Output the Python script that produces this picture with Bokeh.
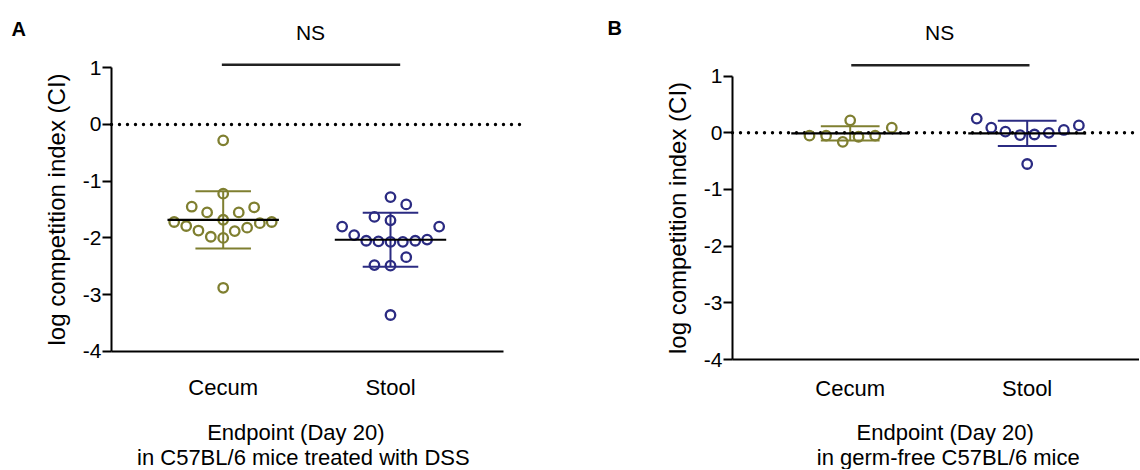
import numpy as np
from bokeh.plotting import figure
from bokeh.layouts import row
from bokeh.models import FixedTicker, LinearAxis
from bokeh.core.properties import value
from bokeh.embed import file_html
from bokeh.resources import INLINE

FONT = "Liberation Sans"

groups = ["Cecum", "Stool"]
group_pos = [1, 2]
y_ticks = [-4, -3, -2, -1, 0, 1]
y_tick_labels = ["-4", "-3", "-2", "-1", "0", "1"]
y_label = "log competition index (CI)"
reference_level = 0

# Panel A: C57BL/6 mice treated with DSS
a_cecum = [-0.28, -1.22, -1.45, -1.55, -1.55, -1.46, -1.72, -1.72, -1.68,
           -1.74, -1.79, -1.87, -1.98, -2.00, -1.88, -1.82, -2.88]
a_cecum_jitter = [0, 0, -0.188, -0.096, 0.093, 0.185, -0.293, 0.290, 0,
                  0.219, -0.221, -0.148, -0.074, 0, 0.069, 0.143, 0]
a_stool = [-1.28, -1.41, -1.63, -1.69, -1.80, -1.80, -1.95, -2.05, -2.06,
           -2.07, -2.07, -2.05, -2.03, -2.34, -2.48, -2.49, -3.36]
a_stool_jitter = [0, 0.094, -0.096, 0, -0.289, 0.291, -0.217, -0.145, -0.072,
                  0, 0.074, 0.148, 0.219, 0.094, -0.096, 0, 0]

# Panel B: germ-free C57BL/6 mice
b_cecum = [-0.05, -0.05, -0.16, 0.22, -0.07, -0.05, 0.09]
b_cecum_jitter = [-0.230, -0.136, -0.042, 0, 0.047, 0.141, 0.235]
b_stool = [0.25, 0.09, 0.02, -0.04, -0.03, 0.00, 0.05, 0.13, -0.55]
b_stool_jitter = [-0.285, -0.203, -0.123, -0.040, 0.041, 0.122, 0.207, 0.292, 0]

colors = ["#7f7f30", "#2b2b82"]
sig_text = "NS"
a_title = ["Endpoint (Day 20)", "in C57BL/6 mice treated with DSS"]
b_title = ["Endpoint (Day 20)", "in germ-free C57BL/6 mice"]


def make_panel(letter, series, jitters, title_lines, x_range, y_range,
               fig_w, fig_h, y_axis_x, x_axis_end, tick_standoff,
               letter_xy, ns_xy, bar, title_xy):
    p = figure(x_range=x_range, y_range=y_range, frame_width=fig_w,
               frame_height=fig_h, min_border=0, x_axis_location=None,
               y_axis_location=None, output_backend="svg",
               toolbar_location=None, tools="")
    p.grid.visible = False
    p.outline_line_color = None

    ya = LinearAxis(fixed_location=y_axis_x)
    ya.ticker = FixedTicker(ticks=y_ticks)
    ya.major_label_overrides = dict(zip(y_ticks, y_tick_labels))
    ya.bounds = (-4, 1)
    ya.axis_line_width = 2
    ya.major_tick_line_width = 2
    ya.major_tick_in = 0
    ya.major_tick_out = 9
    ya.minor_tick_line_color = None
    ya.major_label_standoff = 1
    ya.major_label_text_font = FONT
    ya.major_label_text_font_size = "21px"
    ya.major_label_text_color = "black"
    ya.axis_label = y_label
    ya.axis_label_text_font = FONT
    ya.axis_label_text_font_size = "24px"
    ya.axis_label_text_font_style = "normal"
    ya.axis_label_text_color = "black"
    ya.axis_label_standoff = 10
    p.add_layout(ya, "left")

    xa = LinearAxis(fixed_location=-4)
    xa.ticker = FixedTicker(ticks=group_pos)
    xa.major_label_overrides = dict(zip(group_pos, groups))
    xa.bounds = (y_axis_x, x_axis_end)
    xa.axis_line_width = 2
    xa.major_tick_line_color = None
    xa.minor_tick_line_color = None
    xa.major_tick_in = 0
    xa.major_tick_out = 0
    xa.major_label_standoff = tick_standoff
    xa.major_label_text_font = FONT
    xa.major_label_text_font_size = "22px"
    xa.major_label_text_color = "black"
    p.add_layout(xa, "below")

    # dotted reference line at log CI = 0
    p.segment(x0=[y_axis_x], x1=[bar[3]], y0=[reference_level],
              y1=[reference_level], line_color="black", line_width=3.4,
              line_dash="0 8", line_cap="round")

    for pos, vals, jit, col in zip(group_pos, series, jitters, colors):
        v = np.array(vals)
        xs = pos + np.array(jit)
        p.scatter(xs, v, marker="circle", size=9.5, line_width=2.3,
                  line_color=col, fill_color="white")
        m = v.mean()
        sd = v.std(ddof=1)
        p.segment(x0=[pos], x1=[pos], y0=[m - sd], y1=[m + sd],
                  line_color=col, line_width=2)
        p.segment(x0=[pos - 0.166, pos - 0.166], x1=[pos + 0.166, pos + 0.166],
                  y0=[m - sd, m + sd], y1=[m - sd, m + sd],
                  line_color=col, line_width=2)
        p.segment(x0=[pos - 0.333], x1=[pos + 0.333], y0=[m], y1=[m],
                  line_color="black", line_width=2.2)

    p.segment(x0=[bar[0]], x1=[bar[1]], y0=[bar[2]], y1=[bar[2]],
              line_color="#222222", line_width=2.6)
    p.text(x=[ns_xy[0]], y=[ns_xy[1]], text=[sig_text], text_align="center",
           text_baseline="middle", text_font=value(FONT),
           text_font_size="21px", text_color="black")
    p.text(x=[letter_xy[0]], y=[letter_xy[1]], text=[letter],
           text_align="left", text_baseline="alphabetic",
           text_font=value(FONT), text_font_size="20px",
           text_font_style="bold", text_color="black")
    p.text(x=[t[0] for t in title_xy], y=[t[1] for t in title_xy],
           text=title_lines, text_align="center", text_baseline="middle",
           text_font=value(FONT), text_font_size="22px", text_color="black")
    return p


pa = make_panel("A", [a_cecum, a_stool], [a_cecum_jitter, a_stool_jitter],
                a_title, (-0.3311, 3.2493), (-6.0847, 2.1869), 599, 469,
                0.3323, 2.675, 24, (-0.2654, 1.693), (1.522, 1.617),
                (0.992, 2.058, 1.053, 2.8129),
                [(1.434, -5.432), (1.479, -5.873)])

pb = make_panel("B", [b_cecum, b_stool], [b_cecum_jitter, b_stool_jitter],
                b_title, (-0.4164, 2.6345), (-5.9383, 2.3333), 540, 469,
                0.335, 2.6345, 16, (-0.3712, 1.8395), (1.505, 1.764),
                (1.006, 2.013, 1.192, 2.6345),
                [(1.537, -5.286), (1.554, -5.727)])

layout = row(pa, pb)
open("out.html", "w").write(file_html(layout, INLINE))
